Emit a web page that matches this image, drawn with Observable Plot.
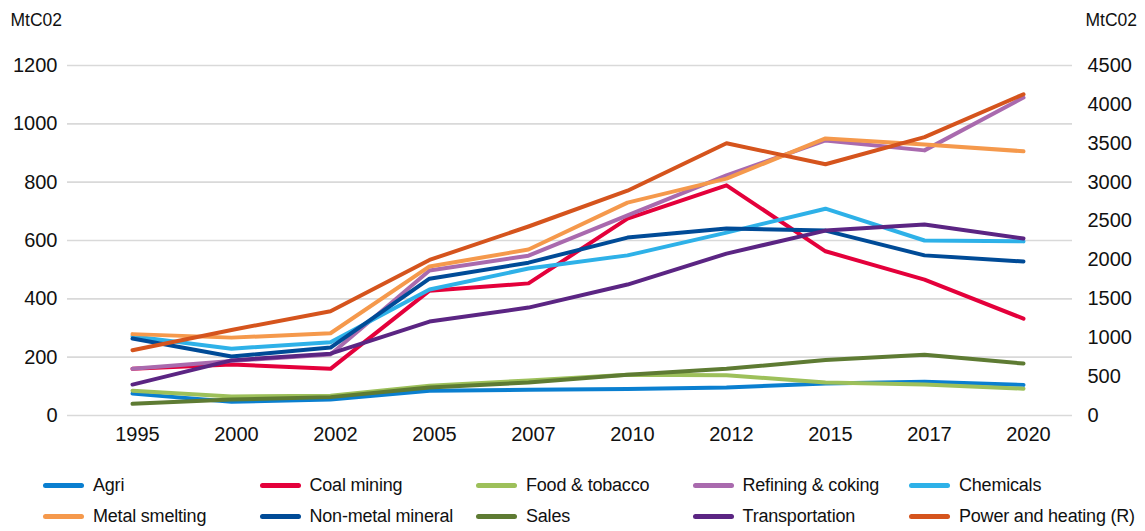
<!DOCTYPE html>
<html>
<head>
<meta charset="utf-8">
<script src="https://cdn.jsdelivr.net/npm/d3@7"></script>
<script src="https://cdn.jsdelivr.net/npm/@observablehq/plot@0.6"></script>
<style>
  html, body { margin: 0; padding: 0; background: #fff; }
  body { width: 1145px; height: 531px; overflow: hidden; font-family: "Liberation Sans", Arial, sans-serif; color: #111; }
  #chart svg { display: block; }
  #legend { display: grid; grid-template-columns: repeat(5, 216.5px); grid-auto-rows: 31px; margin-left: 43px; padding-top: 10px; }
  .item { display: flex; align-items: center; font-size: 18px; letter-spacing: -0.2px; white-space: nowrap; }
  .sw { width: 41px; height: 4.5px; border-radius: 3px; margin-right: 9px; flex: none; }
</style>
</head>
<body>
<div id="chart"></div>
<div id="legend"></div>
<script>
const years = ["1995","2000","2002","2005","2007","2010","2012","2015","2017","2020"];
const seriesNames = ["Agri","Coal mining","Food & tobacco","Refining & coking","Chemicals","Metal smelting","Non-metal mineral","Sales","Transportation","Power and heating (R)"];
const seriesColors = ["#0a7fd0","#e4003b","#9dc05a","#a96aae","#2eb1e8","#f5994c","#004b97","#5e7b33","#5b2583","#d5541d"];

const agri      = [75, 47, 55, 85, 88, 91, 96, 110, 116, 105];
const coal      = [160, 175, 160, 428, 453, 675, 789, 563, 466, 332];
const food      = [85, 65, 68, 102, 120, 140, 138, 113, 106, 92];
const refining  = [160, 187, 209, 497, 548, 686, 823, 943, 909, 1090];
const chemicals = [272, 229, 251, 432, 504, 549, 627, 709, 600, 597];
const metal     = [279, 267, 282, 511, 569, 730, 812, 950, 929, 906];
const nonmetal  = [264, 202, 233, 469, 524, 610, 641, 634, 549, 528];
const sales     = [40, 55, 63, 96, 113, 140, 160, 190, 208, 178];
const transport = [106, 189, 212, 322, 370, 449, 555, 634, 655, 607];
const powerR    = [840, 1100, 1340, 2000, 2430, 2890, 3500, 3230, 3580, 4130];

const leftTicks  = [0, 200, 400, 600, 800, 1000, 1200];
const rightTicks = [0, 500, 1000, 1500, 2000, 2500, 3000, 3500, 4000, 4500];
const unitLabel = "MtC02";

const leftMax = 1200, rightMax = 4500;
const toLeft = v => v * leftMax / rightMax;

const seriesValues = [agri, coal, food, refining, chemicals, metal, nonmetal, sales, transport, powerR.map(toLeft)];
const data = [];
seriesNames.forEach((name, i) => {
  years.forEach((yr, j) => data.push({series: name, year: yr, value: seriesValues[i][j]}));
});

const font = "Liberation Sans, Arial, sans-serif";

const plot = Plot.plot({
  width: 1145,
  height: 460,
  marginLeft: 67,
  marginRight: 73,
  marginTop: 65,
  marginBottom: 45,
  style: {fontFamily: font, color: "#111", background: "#fff"},
  x: {type: "point", domain: years, range: [132, 1023], padding: 0},
  y: {domain: [0, leftMax]},
  color: {domain: seriesNames, range: seriesColors},
  marks: [
    Plot.gridY(leftTicks, {stroke: "#d9d9d9", strokeOpacity: 1, strokeWidth: 1.6}),
    Plot.axisX({tickSize: 0, tickPadding: 11, fontSize: 20, dx: 5, label: null}),
    Plot.axisY(leftTicks, {anchor: "left", tickSize: 0, tickPadding: 10, fontSize: 20, label: null,
      tickFormat: d => String(d)}),
    Plot.axisY(rightTicks.map(toLeft), {anchor: "right", tickSize: 0, tickPadding: 15, fontSize: 20, label: null,
      tickFormat: d => String(Math.round(d * rightMax / leftMax)), textAnchor: "start"}),
    Plot.line(data, {x: "year", y: "value", z: "series", stroke: "series", strokeWidth: 4,
      strokeLinecap: "round", strokeLinejoin: "round"}),
    Plot.text([unitLabel], {frameAnchor: "top-left", dx: -57, dy: -45, textAnchor: "start", lineAnchor: "middle", fontSize: 17.5, fill: "#111"}),
    Plot.text([unitLabel], {frameAnchor: "top-right", dx: 13, dy: -45, textAnchor: "start", lineAnchor: "middle", fontSize: 17.5, fill: "#111"})
  ]
});
document.getElementById("chart").appendChild(plot);

const legend = document.getElementById("legend");
seriesNames.forEach((name, i) => {
  const it = document.createElement("div");
  it.className = "item";
  const sw = document.createElement("span");
  sw.className = "sw";
  sw.style.background = seriesColors[i];
  const tx = document.createElement("span");
  tx.textContent = name;
  it.appendChild(sw);
  it.appendChild(tx);
  legend.appendChild(it);
});
</script>
</body>
</html>
